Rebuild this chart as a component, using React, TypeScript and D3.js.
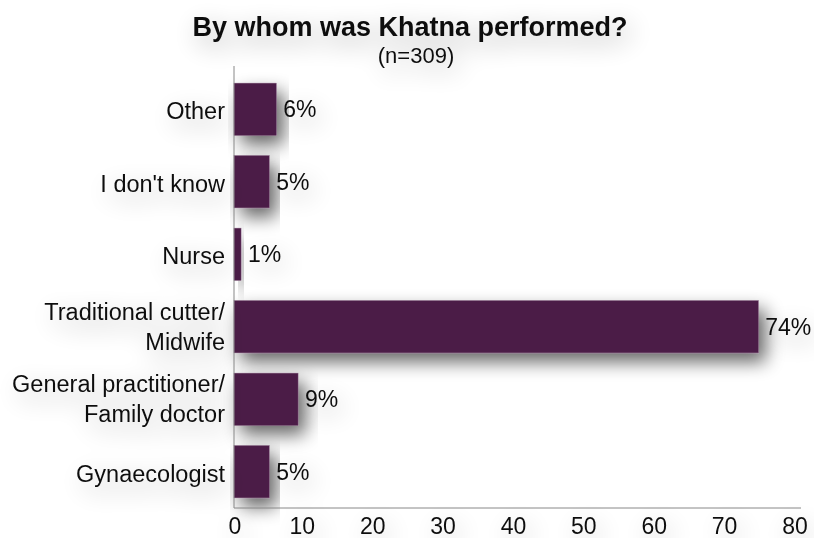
import React from "react";
import * as d3 from "d3";

const categories = ["Other", "I don't know", "Nurse", "Traditional cutter/\nMidwife", "General practitioner/\nFamily doctor", "Gynaecologist"];
const values = [6.0, 5.0, 1.0, 74.5, 9.1, 5.0];
const valueLabels = ["6%", "5%", "1%", "74%", "9%", "5%"];
const xTicks = [0, 10, 20, 30, 40, 50, 60, 70, 80];

const W = 814, H = 538;
const font = "'Liberation Sans', Arial, Helvetica, sans-serif";

export default function App() {
  const x = d3.scaleLinear().domain([0, 80]).range([234, 797]);
  const y = d3.scaleBand<string>().domain(categories).range([73, 508]).paddingInner(0.28).paddingOuter(0.14);
  return (
    <svg width={W} height={H} style={{ position: "absolute", left: 0, top: 0, background: "#fff" }}>
      <defs>
        <filter id="barShadow" x="-30%" y="-60%" width="160%" height="240%">
          <feGaussianBlur in="SourceAlpha" stdDeviation="9" />
          <feOffset dx="7" dy="9" result="b" />
          <feComponentTransfer><feFuncA type="linear" slope="0.6" /></feComponentTransfer>
          <feMerge><feMergeNode /><feMergeNode in="SourceGraphic" /></feMerge>
        </filter>
        <filter id="textShadow" x="-40%" y="-100%" width="180%" height="300%">
          <feGaussianBlur in="SourceAlpha" stdDeviation="13" />
          <feOffset dx="5" dy="8" />
          <feComponentTransfer><feFuncA type="linear" slope="0.32" /></feComponentTransfer>
          <feMerge><feMergeNode /><feMergeNode in="SourceGraphic" /></feMerge>
        </filter>
      </defs>
      <g filter="url(#textShadow)" fontFamily={font} fill="#111">
        <text x={410} y={36} textAnchor="middle" fontSize={27} fontWeight="bold">By whom was Khatna performed?</text>
        <text x={416} y={63} textAnchor="middle" fontSize={22}>(n=309)</text>
      </g>
      <g>
        {categories.map((c, i) => (
          <rect key={c} x={x(0)} y={y(c)!} width={x(values[i]) - x(0)} height={y.bandwidth()}
            fill="#4b1a47" stroke="#7a5477" strokeWidth={0.5} filter="url(#barShadow)" />
        ))}
      </g>
      <line x1={x(0)} x2={x(0)} y1={66} y2={508} stroke="#888" strokeWidth={1} />
      <line x1={x(0)} x2={x(80) + 4} y1={508} y2={508} stroke="#888" strokeWidth={1} />
      <g filter="url(#textShadow)" fontFamily={font} fill="#111" fontSize={23.5}>
        {categories.map((c, i) => {
          const lines = c.split("\n");
          const cy = y(c)! + y.bandwidth() / 2;
          return (
            <text key={c} x={225} textAnchor="end">
              {lines.map((l, j) => (
                <tspan key={j} x={225} y={cy + (lines.length > 1 ? 8 : 10) + (j - (lines.length - 1) / 2) * 30}>{l}</tspan>
              ))}
            </text>
          );
        })}
        {categories.map((c, i) => (
          <text key={c + "v"} x={x(values[i]) + 7} y={y(c)! + y.bandwidth() / 2 + 8} fontSize={23}>{valueLabels[i]}</text>
        ))}
        {xTicks.map(t => (
          <text key={t} x={x(t) + (t === 0 ? 1 : -2)} y={534} textAnchor="middle" fontSize={23}>{t}</text>
        ))}
      </g>
    </svg>
  );
}
